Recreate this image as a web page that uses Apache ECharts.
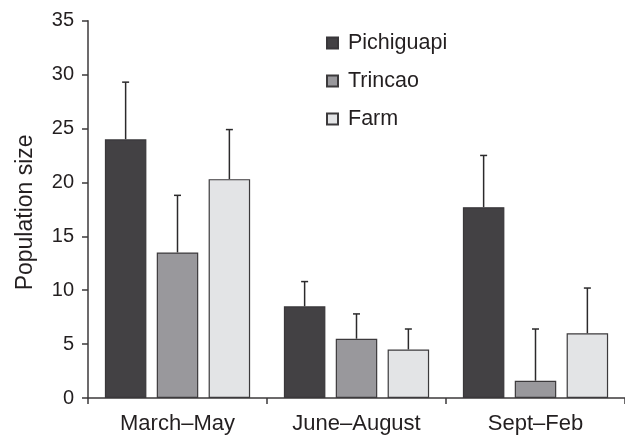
<!DOCTYPE html>
<html>
<head>
<meta charset="utf-8">
<title>Population size by season</title>
<script src="https://cdn.jsdelivr.net/npm/echarts@6/dist/echarts.min.js"></script>
<style>
  html, body { margin: 0; padding: 0; background: #ffffff; }
  #chart { width: 625px; height: 435px; }
</style>
</head>
<body>
<div id="chart"></div>
<script>
// Seasons on the x axis
var categories = ['March\u2013May', 'June\u2013August', 'Sept\u2013Feb'];

// Mean population size per site
var pichiguapi = [24.0, 8.5, 17.7];
var trincao = [13.5, 5.5, 1.6];
var farm = [20.3, 4.5, 6.0];

// Upper error (one-sided) per site
var pichiguapiErr = [5.3, 2.3, 4.8];
var trincaoErr = [5.3, 2.3, 4.8];
var farmErr = [4.6, 1.9, 4.2];

// Y axis ticks
var yTicks = [0, 5, 10, 15, 20, 25, 30, 35];

var FONT = '"Liberation Sans", Arial, Helvetica, sans-serif';
var TEXT = '#231f20';
var AXIS = '#3c3a3b';
var BAR_W = 41.5;
var BAR_GAP = 0.25;               // gap as fraction of bar width
var STEP = BAR_W * (1 + BAR_GAP); // distance between neighbouring bar centres

function errorRenderer(slot) {
  return function (params, api) {
    var c = api.value(0);
    var base = api.coord([c, api.value(1)]);
    var top = api.coord([c, api.value(1) + api.value(2)]);
    var x = base[0] + (slot - 1) * STEP;
    var cap = 3.5;
    return {
      type: 'group',
      children: [
        { type: 'line', shape: { x1: x, y1: base[1], x2: x, y2: top[1] },
          style: { stroke: '#2b2a2b', lineWidth: 1.5 } },
        { type: 'line', shape: { x1: x - cap, y1: top[1], x2: x + cap, y2: top[1] },
          style: { stroke: '#2b2a2b', lineWidth: 1.5 } }
      ]
    };
  };
}

function errData(means, errs) {
  return means.map(function (m, i) { return [i, m, errs[i]]; });
}

var sites = [
  { name: 'Pichiguapi', values: pichiguapi, errs: pichiguapiErr,
    color: '#434144', border: '#39373a' },
  { name: 'Trincao', values: trincao, errs: trincaoErr,
    color: '#99989c', border: '#3c3a3c' },
  { name: 'Farm', values: farm, errs: farmErr,
    color: '#e3e4e6', border: '#3c3a3c' }
];

var series = [];
sites.forEach(function (s) {
  series.push({
    name: s.name,
    type: 'bar',
    data: s.values,
    barWidth: BAR_W,
    barGap: (BAR_GAP * 100) + '%',
    z: 3,
    itemStyle: { color: s.color, borderColor: s.border, borderWidth: 1.2 }
  });
});
sites.forEach(function (s, k) {
  series.push({
    name: s.name + ' error',
    type: 'custom',
    renderItem: errorRenderer(k),
    data: errData(s.values, s.errs),
    encode: { x: 0, y: 1 },
    z: 2,
    silent: true
  });
});

var chart = echarts.init(document.getElementById('chart'), null, { renderer: 'canvas' });
chart.setOption({
  animation: false,
  backgroundColor: '#ffffff',
  textStyle: { fontFamily: FONT },
  grid: { left: 88, top: 20.7, width: 538, bottom: 36, containLabel: false },
  legend: {
    data: sites.map(function (s) { return s.name; }),
    orient: 'vertical',
    left: 326,
    top: 32,
    padding: 0,
    itemWidth: 11,
    itemHeight: 11,
    itemGap: 16,
    icon: 'rect',
    textStyle: { fontFamily: FONT, fontSize: 21.5, color: TEXT, padding: [0, 0, 0, 5] }
  },
  xAxis: {
    type: 'category',
    data: categories,
    boundaryGap: true,
    axisLine: { show: true, lineStyle: { color: AXIS, width: 1.5 } },
    axisTick: { show: true, length: 6, alignWithLabel: false, lineStyle: { color: AXIS, width: 1.5 } },
    axisLabel: { fontFamily: FONT, fontSize: 22, color: TEXT, margin: 15 },
    splitLine: { show: false }
  },
  yAxis: {
    type: 'value',
    min: yTicks[0],
    max: yTicks[yTicks.length - 1],
    interval: yTicks[1] - yTicks[0],
    name: 'Population size',
    nameLocation: 'middle',
    nameGap: 51,
    nameTextStyle: { fontFamily: FONT, fontSize: 23, color: TEXT, padding: [0, 6, 0, 0] },
    axisLine: { show: true, lineStyle: { color: AXIS, width: 1.5 } },
    axisTick: { show: true, length: 6, lineStyle: { color: AXIS, width: 1.5 } },
    axisLabel: { fontFamily: FONT, fontSize: 20, color: TEXT, margin: 14 },
    splitLine: { show: false }
  },
  series: series
});
</script>
</body>
</html>
